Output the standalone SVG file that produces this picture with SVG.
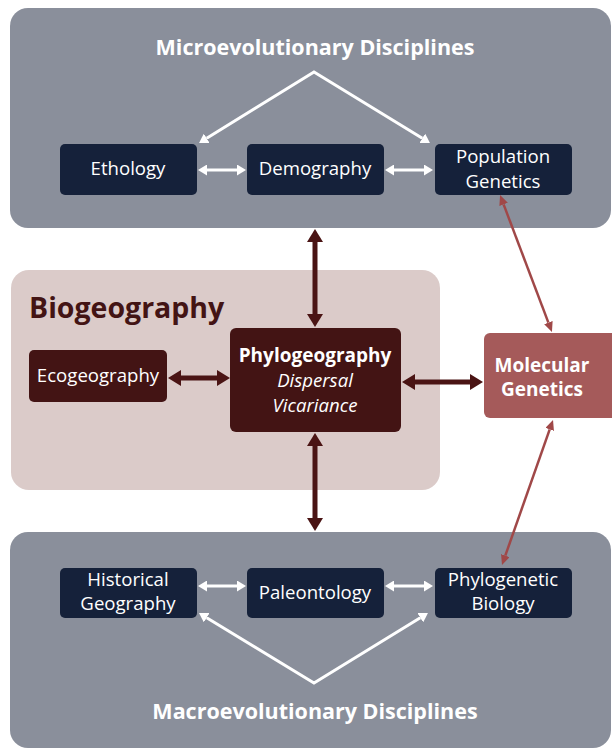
<svg xmlns="http://www.w3.org/2000/svg" width="612" height="749" viewBox="0 0 612 749">
<defs>
<style>
.panel{fill:#8a8f9b}
.bio{fill:#dbcbc9}
.navy{fill:#15213a}
.maroon{fill:#431414}
.mol{fill:#a55a5a}
text{font-family:"Open Sans","Noto Sans","Liberation Sans",sans-serif;text-anchor:middle}
.title{font-size:21.5px;font-weight:bold;fill:#ffffff}
.node{font-size:18.6px;fill:#ffffff}
.bold{font-weight:bold;font-size:19px}
.ital{font-style:italic}
.wa{stroke:#ffffff;stroke-width:3;fill:none}
.da{stroke:#4a1414;stroke-width:5;fill:none}
.ra{stroke:#a04848;stroke-width:2.5;fill:none}
</style>
<marker id="mw" markerUnits="userSpaceOnUse" viewBox="0 0 9 11" markerWidth="9" markerHeight="11" refX="0" refY="5.5" orient="auto-start-reverse"><path d="M0,0 L9,5.5 L0,11 z" fill="#ffffff"/></marker>
<marker id="md" markerUnits="userSpaceOnUse" viewBox="0 0 13 16" markerWidth="13" markerHeight="16" refX="0" refY="8" orient="auto-start-reverse"><path d="M0,0 L13,8 L0,16 z" fill="#4a1414"/></marker>
<marker id="mr" markerUnits="userSpaceOnUse" viewBox="0 0 10 9" markerWidth="10" markerHeight="9" refX="0" refY="4.5" orient="auto-start-reverse"><path d="M0,0 L10,4.5 L0,9 z" fill="#a04848"/></marker>
</defs>

<g id="micro-panel">
<rect class="panel" x="10" y="8" width="601" height="220" rx="18"/>
<text class="title" x="315" y="55">Microevolutionary Disciplines</text>
</g>
<g id="macro-panel">
<rect class="panel" x="10" y="532" width="601" height="216" rx="18"/>
<text class="title" x="315" y="719">Macroevolutionary Disciplines</text>
</g>
<g id="biogeography-panel">
<rect class="bio" x="11" y="270" width="429" height="220" rx="18"/>
<text x="29" y="318" style="font-size:28.5px;font-weight:bold;fill:#431414;text-anchor:start">Biogeography</text>
</g>

<g id="ethology"><rect class="navy" x="60" y="144" width="137" height="51" rx="5"/><text class="node" x="128" y="175">Ethology</text></g>
<g id="demography"><rect class="navy" x="247" y="144" width="137" height="51" rx="5"/><text class="node" x="315" y="175">Demography</text></g>
<g id="population-genetics"><rect class="navy" x="435" y="144" width="137" height="51" rx="5"/><text class="node" x="503" y="163">Population</text><text class="node" x="503" y="188">Genetics</text></g>

<g id="historical-geography"><rect class="navy" x="60" y="568" width="137" height="50" rx="5"/><text class="node" x="128" y="586">Historical</text><text class="node" x="128" y="610">Geography</text></g>
<g id="paleontology"><rect class="navy" x="247" y="568" width="137" height="50" rx="5"/><text class="node" x="315" y="599">Paleontology</text></g>
<g id="phylogenetic-biology"><rect class="navy" x="435" y="568" width="137" height="50" rx="5"/><text class="node" x="503" y="586">Phylogenetic</text><text class="node" x="503" y="610">Biology</text></g>

<g id="ecogeography"><rect class="maroon" x="29" y="350" width="138" height="52" rx="5"/><text class="node" x="98" y="382">Ecogeography</text></g>
<g id="phylogeography"><rect class="maroon" x="230" y="328" width="171" height="104" rx="6"/><text class="node bold" x="315" y="362">Phylogeography</text><text class="node ital" x="315" y="387">Dispersal</text><text class="node ital" x="315" y="412">Vicariance</text></g>
<g id="molecular-genetics"><rect class="mol" x="484" y="333" width="140" height="85" rx="6"/><text class="node bold" x="542" y="372">Molecular</text><text class="node bold" x="542" y="396">Genetics</text></g>

<g id="connectors">
<line class="wa" x1="207" y1="170" x2="237" y2="170" marker-start="url(#mw)" marker-end="url(#mw)"/>
<line class="wa" x1="394" y1="170" x2="424" y2="170" marker-start="url(#mw)" marker-end="url(#mw)"/>
<line class="wa" x1="207" y1="586" x2="237" y2="586" marker-start="url(#mw)" marker-end="url(#mw)"/>
<line class="wa" x1="394" y1="586" x2="424" y2="586" marker-start="url(#mw)" marker-end="url(#mw)"/>
<polyline class="wa" points="206.7,138.3 314,72 422.3,138.3" marker-start="url(#mw)" marker-end="url(#mw)"/>
<polyline class="wa" points="206.7,617.7 314,683 420.3,617.7" marker-start="url(#mw)" marker-end="url(#mw)"/>
<line class="da" x1="315" y1="242" x2="315" y2="314" marker-start="url(#md)" marker-end="url(#md)"/>
<line class="da" x1="315" y1="446" x2="315" y2="518" marker-start="url(#md)" marker-end="url(#md)"/>
<line class="da" x1="181" y1="378" x2="217" y2="378" marker-start="url(#md)" marker-end="url(#md)"/>
<line class="da" x1="415" y1="382" x2="470" y2="382" marker-start="url(#md)" marker-end="url(#md)"/>
<line class="ra" x1="503.6" y1="204.4" x2="548.4" y2="322.6" marker-start="url(#mr)" marker-end="url(#mr)"/>
<line class="ra" x1="549.7" y1="429.4" x2="505.3" y2="555.6" marker-start="url(#mr)" marker-end="url(#mr)"/>
</g>
</svg>
